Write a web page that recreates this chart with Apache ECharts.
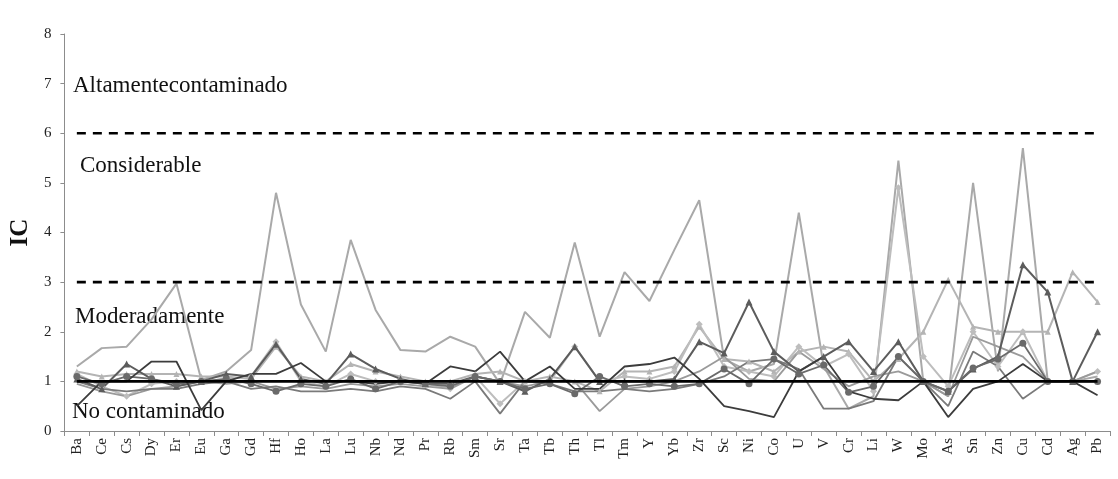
<!DOCTYPE html>
<html>
<head>
<meta charset="utf-8">
<script src="https://cdn.jsdelivr.net/npm/echarts@6/dist/echarts.min.js"></script>
<style>
  html, body { margin: 0; padding: 0; background: #fff; }
  #chart { width: 1118px; height: 479px; }
</style>
</head>
<body>
<div id="chart"></div>
<script>
// Elements along the x axis
const elements = ['Ba','Ce','Cs','Dy','Er','Eu','Ga','Gd','Hf','Ho','La','Lu','Nb','Nd','Pr','Rb','Sm','Sr','Ta','Tb','Th','Tl','Tm','Y','Yb','Zr','Sc','Ni','Co','U','V','Cr','Li','W','Mo','As','Sn','Zn','Cu','Cd','Ag','Pb'];

// IC values per sampling site
const site1 = [1.3,1.67,1.7,2.25,2.97,1.03,1.2,1.63,4.8,2.55,1.6,3.85,2.44,1.63,1.6,1.9,1.7,0.95,2.4,1.88,3.8,1.9,3.2,2.62,3.65,4.65,1.45,1.2,1.35,4.4,1.3,0.45,0.7,5.45,1.0,0.7,5.0,1.2,5.7,1.0,1.0,1.1];
const site2 = [1.15,0.9,0.7,0.95,1.0,1.0,1.05,1.1,1.8,1.0,0.9,1.15,1.0,1.0,0.95,0.85,1.1,0.55,1.0,1.0,1.7,1.0,1.1,1.05,1.2,2.15,1.3,1.2,1.1,1.7,1.3,1.55,0.8,4.9,1.5,0.9,2.0,1.3,2.0,1.0,1.0,1.2];
const site3 = [1.2,1.1,1.15,1.15,1.15,1.1,1.1,1.05,1.7,1.1,1.0,1.35,1.2,1.1,1.0,1.0,1.15,1.2,1.0,1.1,1.0,0.8,1.2,1.2,1.3,2.1,1.45,1.4,1.2,1.6,1.7,1.6,1.0,1.45,2.0,3.05,2.1,2.0,2.0,2.0,3.2,2.6];
const site4 = [0.95,0.8,0.7,0.85,0.9,1.0,0.95,1.0,0.85,0.9,0.85,0.95,0.9,0.95,0.9,0.85,1.1,1.0,0.9,1.0,1.0,0.4,0.85,0.9,1.0,1.2,1.5,1.05,1.0,1.6,1.25,0.9,1.1,1.2,1.0,0.7,1.9,1.7,1.5,1.0,1.0,1.2];
const site5 = [1.0,0.85,0.8,0.85,0.85,0.95,1.0,0.85,0.9,0.8,0.8,0.85,0.8,0.9,0.85,0.65,1.0,0.35,1.0,0.95,0.8,0.8,0.85,0.8,0.85,0.95,1.1,1.4,1.45,1.25,0.45,0.45,0.6,1.5,1.0,0.5,1.6,1.3,0.65,1.0,1.0,1.0];
const site6 = [1.1,0.95,1.1,1.05,0.95,1.0,1.05,0.95,0.8,0.95,0.9,1.05,0.85,1.0,0.95,0.9,1.1,1.0,0.85,0.95,0.75,1.1,0.9,0.95,0.9,0.95,1.25,0.95,1.45,1.15,1.33,0.78,0.9,1.5,1.0,0.8,1.27,1.45,1.77,1.0,1.0,1.0];
const site7 = [1.05,0.85,1.35,1.05,0.9,1.0,1.15,1.1,1.75,1.05,0.95,1.55,1.25,1.05,0.95,0.95,1.1,1.0,0.8,1.05,1.7,1.0,1.0,1.0,1.05,1.8,1.57,2.6,1.6,1.2,1.5,1.8,1.2,1.8,1.0,0.8,1.25,1.5,3.35,2.8,1.0,2.0];
const site8 = [0.5,1.0,1.0,1.4,1.4,0.42,1.0,1.15,1.15,1.37,1.0,1.0,0.95,1.0,0.95,1.3,1.2,1.6,1.0,1.3,0.85,0.85,1.3,1.35,1.48,1.05,0.5,0.4,0.28,1.2,1.5,0.8,0.65,0.62,1.0,0.28,0.85,1.0,1.35,1.0,1.0,0.72];

// Class limits of the contamination index
const limitNone = 1;
const limitModerate = 3;
const limitHigh = 6;

const yTicks = [0, 8, 1];

const serif = '"Liberation Serif", "Times New Roman", serif';

function site(name, data, color, width, symbol, size) {
  return {
    name: name,
    type: 'line',
    data: data,
    symbol: symbol || 'none',
    symbolSize: size || 6,
    showSymbol: !!symbol,
    lineStyle: { color: color, width: width },
    itemStyle: { color: color },
    z: 3,
    silent: true,
    animation: false
  };
}

function limitLine(value, type) {
  return {
    type: 'line',
    data: elements.map(() => value),
    symbol: 'none',
    lineStyle: { color: '#000', width: 2.6, type: type === 'dashed' ? [9, 7] : 'solid' },
    z: 5,
    silent: true,
    animation: false
  };
}

const chart = echarts.init(document.getElementById('chart'), null, { renderer: 'canvas' });

chart.setOption({
  backgroundColor: '#fff',
  animation: false,
  grid: { left: 62, right: 8, top: 34, bottom: 48, containLabel: false },
  xAxis: {
    type: 'category',
    data: elements,
    boundaryGap: true,
    axisLine: { lineStyle: { color: '#8c8c8c', width: 1 } },
    axisTick: { show: true, alignWithLabel: false, length: 5, lineStyle: { color: '#8c8c8c' } },
    axisLabel: { rotate: 90, interval: 0, margin: 7, color: '#222', fontFamily: serif, fontSize: 15 },
    splitLine: { show: false }
  },
  yAxis: {
    type: 'value',
    min: yTicks[0],
    max: yTicks[1],
    interval: yTicks[2],
    name: 'IC',
    nameLocation: 'middle',
    nameGap: 28,
    nameRotate: 90,
    nameTextStyle: { fontFamily: serif, fontSize: 25, fontWeight: 'bold', color: '#111' },
    axisLine: { show: true, lineStyle: { color: '#8c8c8c', width: 1 } },
    axisTick: { show: true, length: 4, lineStyle: { color: '#8c8c8c' } },
    axisLabel: { margin: 13, color: '#222', fontFamily: serif, fontSize: 15 },
    splitLine: { show: false }
  },
  graphic: [
    { type: 'text', left: 73, top: 74, style: { text: 'Altamentecontaminado', font: '23px ' + serif, fill: '#111' } },
    { type: 'text', left: 80, top: 154, style: { text: 'Considerable', font: '23px ' + serif, fill: '#111' } },
    { type: 'text', left: 75, top: 305, style: { text: 'Moderadamente', font: '23px ' + serif, fill: '#111' } },
    { type: 'text', left: 72, top: 400, style: { text: 'No contaminado', font: '23px ' + serif, fill: '#111' } }
  ],
  series: [
    site('S1', site1, '#a9a9a9', 2),
    site('S3', site3, '#b4b4b4', 2, 'triangle', 6),
    site('S2', site2, '#bdbdbd', 2, 'diamond', 7),
    site('S4', site4, '#9a9a9a', 1.8),
    site('S5', site5, '#7a7a7a', 1.8),
    site('S7', site7, '#5c5c5c', 2, 'triangle', 7),
    site('S6', site6, '#6a6a6a', 1.8, 'circle', 7),
    site('S8', site8, '#3c3c3c', 1.8),
    limitLine(limitNone, 'solid'),
    limitLine(limitModerate, 'dashed'),
    limitLine(limitHigh, 'dashed')
  ]
});
</script>
</body>
</html>
